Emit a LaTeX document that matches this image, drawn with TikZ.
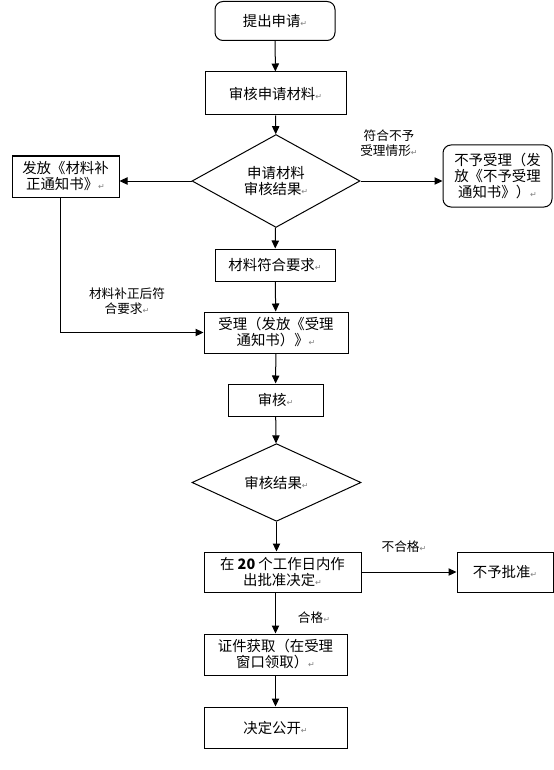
\documentclass[tikz,border=0pt]{standalone}
\usepackage{fontspec}
\setmainfont{Noto Sans CJK SC}
\newfontfamily\retfont{DejaVu Sans}
\usetikzlibrary{shapes.geometric,arrows.meta}
\newcommand\retmk{{\retfont\fontsize{6}{6}\selectfont\textcolor{gray}{↵}}}
\tikzset{
  box/.style={draw, line width=0.75pt, inner sep=1pt, align=center,
    font=\fontsize{10.8}{12}\selectfont},
  rbox/.style={box, rounded corners=6pt},
  dia/.style={draw, line width=0.75pt, diamond, inner sep=0pt, align=center,
    font=\fontsize{10.8}{11.5}\selectfont},
  lbl/.style={align=center, inner sep=0pt, font=\fontsize{9.5}{11}\selectfont},
  arr/.style={line width=0.75pt, -{Triangle[length=6pt,width=5.5pt]}},
}
\begin{document}
\begin{tikzpicture}[x=0.75pt,y=-0.75pt]
\path[use as bounding box, fill=white] (0,0) rectangle (553,770);

\node[rbox, minimum width=90pt, minimum height=29.25pt] (s) at (275,21) {提出申请\retmk};
\node[box, minimum width=105.75pt, minimum height=32.25pt] (m) at (275.5,93.5) {审核申请材料\retmk};
\node[dia, minimum width=126pt, minimum height=54.75pt] (d1) at (276,181) {申请材料\\审核结果\retmk};
\node[box, minimum width=80.25pt, minimum height=30.75pt] (fb) at (65.5,176.5) {发放《材料补\\正通知书》\retmk};
\node[rbox, minimum width=81.75pt, minimum height=46.5pt] (nr) at (497.5,176) {不予受理（发\\放《不予受理\\通知书》）\retmk};
\node[box, minimum width=90pt, minimum height=24pt] (ok) at (275,265) {材料符合要求\retmk};
\node[box, minimum width=108pt, minimum height=30.75pt] (sl) at (276,332.5) {受理（发放《受理\\通知书）》\retmk};
\node[box, minimum width=71.25pt, minimum height=24pt] (rv) at (275.5,400) {审核\retmk};
\node[dia, minimum width=126.75pt, minimum height=53.25pt] (d2) at (276.5,482.5) {审核结果\retmk};
\node[box, minimum width=117.75pt, minimum height=30pt] (dc) at (282.5,572) {在 \textbf{20} 个工作日内作\\出批准决定\retmk};
\node[box, minimum width=72pt, minimum height=30pt] (np) at (505,572) {不予批准\retmk};
\node[box, minimum width=107.25pt, minimum height=30.75pt] (cert) at (275.5,654.5) {证件获取（在受理\\窗口领取）\retmk};
\node[box, minimum width=107.25pt, minimum height=30.75pt] (pub) at (275.5,727.5) {决定公开\retmk};

\node[lbl] (l1) at (389,143) {符合不予\\受理情形\retmk};
\node[lbl] (l2) at (127,301) {材料补正后符\\合要求\retmk};
\node[lbl] (l3) at (404,547) {不合格\retmk};
\node[lbl] (l4) at (314,618) {合格\retmk};

\coordinate (c1) at (60,332.5);

\draw[arr] (s) -- (m);
\draw[arr] (m) -- (d1);
\draw[arr] (d1.west) -- (fb.east |- d1.west);
\draw[arr] (d1.east) -- (nr.west |- d1.east);
\draw[arr] (d1) -- (ok);
\draw[arr] (ok) -- (sl);
\draw[arr] (fb.south -| c1) -- (c1) -- (sl.west);
\draw[arr] (sl) -- (rv);
\draw[arr] (rv) -- (d2);
\draw[arr] (d2.south) -- (dc.north -| d2.south);
\draw[arr] (dc.east) -- (np.west);
\draw[arr] (dc.south -| cert.north) -- (cert.north);
\draw[arr] (cert) -- (pub);
\end{tikzpicture}
\end{document}
